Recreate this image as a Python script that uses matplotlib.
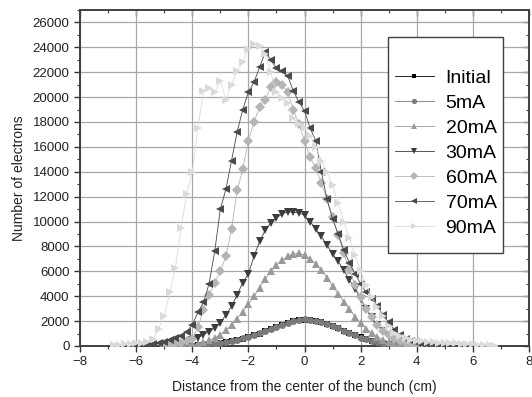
import matplotlib
matplotlib.use('Agg')
import matplotlib.pyplot as plt
from matplotlib.ticker import MultipleLocator, NullFormatter
from matplotlib.patches import Rectangle

plt.rcParams['font.family'] = ['Liberation Sans', 'DejaVu Sans']

# ── Daten ─────────────────────────────────────────────────────────────────────
x_initial = [-4.4, -4.2, -4.0, -3.8, -3.6, -3.4, -3.2, -3.0, -2.8, -2.6, -2.4, -2.2,
             -2.0, -1.8, -1.6, -1.4, -1.2, -1.0, -0.8, -0.6, -0.4, -0.2, 0.0, 0.2,
             0.4, 0.6, 0.8, 1.0, 1.2, 1.4, 1.6, 1.8, 2.0, 2.2, 2.4, 2.6, 2.8, 3.0,
             3.2, 3.4, 3.6, 3.8, 4.0]
y_initial = [10, 20, 30, 60, 90, 130, 180, 240, 310, 390, 480, 590,
             710, 850, 1000, 1170, 1340, 1520, 1690, 1840, 1970, 2070, 2120, 2100,
             2030, 1920, 1770, 1600, 1420, 1230, 1040, 860, 690, 540, 410, 300, 210, 140,
             90, 50, 30, 15, 5]

x_5ma = x_initial
y_5ma = [10, 20, 40, 60, 100, 140, 190, 250, 320, 400, 500, 610,
         730, 870, 1020, 1190, 1360, 1540, 1710, 1860, 1990, 2080, 2130, 2110,
         2040, 1920, 1770, 1600, 1410, 1220, 1030, 850, 680, 530, 400, 290, 200, 130,
         80, 50, 30, 15, 5]

x_20ma = [-4.6, -4.4, -4.2, -4.0, -3.8, -3.6, -3.4, -3.2, -3.0, -2.8, -2.6, -2.4,
          -2.2, -2.0, -1.8, -1.6, -1.4, -1.2, -1.0, -0.8, -0.6, -0.4, -0.2, 0.0,
          0.2, 0.4, 0.6, 0.8, 1.0, 1.2, 1.4, 1.6, 1.8, 2.0, 2.2, 2.4, 2.6, 2.8,
          3.0, 3.2, 3.4, 3.6, 3.8, 4.0, 4.2]
y_20ma = [20, 40, 80, 130, 200, 300, 450, 650, 900, 1250, 1700, 2200,
          2750, 3350, 4000, 4700, 5400, 6000, 6500, 6900, 7200, 7400, 7450, 7300,
          7000, 6600, 6100, 5500, 4850, 4200, 3550, 2950, 2350, 1850, 1400, 1050, 750, 500,
          330, 210, 130, 80, 40, 20, 10]

x_30ma = x_20ma
y_30ma = [60, 150, 280, 450, 680, 900, 1150, 1450, 1850, 2500, 3200, 4100,
          5100, 5800, 7200, 8400, 9300, 9900, 10300, 10600, 10800, 10750, 10700, 10500,
          10000, 9400, 8800, 8100, 7400, 6800, 6100, 5300, 4600, 3800, 3000, 2300, 1700, 1200,
          800, 500, 300, 170, 80, 30, 10]

x_60ma = [-5.0, -4.8, -4.6, -4.4, -4.2, -4.0, -3.8, -3.6, -3.4, -3.2, -3.0, -2.8,
          -2.6, -2.4, -2.2, -2.0, -1.8, -1.6, -1.4, -1.2, -1.0, -0.8, -0.6, -0.4,
          -0.2, 0.0, 0.2, 0.4, 0.6, 0.8, 1.0, 1.2, 1.4, 1.6, 1.8, 2.0, 2.2, 2.4,
          2.6, 2.8, 3.0, 3.2, 3.4, 3.6, 3.8, 4.0, 4.2, 4.4]
y_60ma = [60, 100, 160, 250, 380, 560, 1500, 2900, 4100, 5100, 6000, 7200,
          9400, 12500, 14200, 16500, 18000, 19200, 19800, 20800, 21200, 21000, 20400, 19000,
          17800, 16500, 15200, 14300, 13100, 11800, 10400, 8900, 7500, 6100, 4900, 3900, 3000, 2300,
          1700, 1200, 850, 600, 400, 260, 160, 100, 60, 30]

x_70ma = [-6.4, -6.2, -6.0, -5.8, -5.6, -5.4, -5.2, -5.0, -4.8, -4.6, -4.4, -4.2,
          -4.0, -3.8, -3.6, -3.4, -3.2, -3.0, -2.8, -2.6, -2.4, -2.2, -2.0, -1.8,
          -1.6, -1.4, -1.2, -1.0, -0.8, -0.6, -0.4, -0.2, 0.0, 0.2, 0.4, 0.6,
          0.8, 1.0, 1.2, 1.4, 1.6, 1.8, 2.0, 2.2, 2.4, 2.6, 2.8, 3.0,
          3.2, 3.4, 3.6, 3.8, 4.0, 4.2, 4.4, 4.6, 4.8, 5.0]
y_70ma = [20, 40, 60, 90, 130, 180, 250, 340, 460, 620, 830, 1150,
          1700, 2700, 3500, 5000, 7600, 11000, 12600, 14900, 17200, 19000, 20400, 21200,
          22400, 23600, 23000, 22300, 22100, 21700, 20500, 19600, 18900, 17500, 16500, 14000,
          11800, 10200, 9000, 7700, 6700, 5800, 5000, 4300, 3800, 3200, 2500, 1900,
          1300, 900, 600, 380, 250, 160, 100, 60, 30, 10]

x_90ma = [-6.8, -6.6, -6.4, -6.2, -6.0, -5.8, -5.6, -5.4, -5.2, -5.0, -4.8, -4.6,
          -4.4, -4.2, -4.0, -3.8, -3.6, -3.4, -3.2, -3.0, -2.8, -2.6, -2.4, -2.2,
          -2.0, -1.8, -1.6, -1.4, -1.2, -1.0, -0.8, -0.6, -0.4, -0.2, 0.0, 0.2,
          0.4, 0.6, 0.8, 1.0, 1.2, 1.4, 1.6, 1.8, 2.0, 2.2, 2.4, 2.6,
          2.8, 3.0, 3.2, 3.4, 3.6, 3.8, 4.0, 4.2, 4.4, 4.6, 4.8, 5.0,
          5.2, 5.4, 5.6, 5.8, 6.0, 6.2, 6.4, 6.6, 6.8]
y_90ma = [80, 110, 140, 180, 220, 270, 350, 550, 1400, 2400, 4300, 6300,
          9500, 12200, 14000, 17500, 20500, 20700, 20400, 21300, 19800, 21000, 22100, 22800,
          23900, 24300, 24100, 23500, 22000, 20400, 19900, 19500, 18300, 17800, 17500, 16900,
          16000, 14900, 14000, 12900, 11500, 10000, 8700, 7300, 6000, 4900, 3900, 3100,
          2400, 1600, 1050, 800, 620, 500, 430, 380, 340, 300, 270, 250,
          230, 210, 180, 150, 130, 110, 90, 70, 40]

labels = ['Initial', '5mA', '20mA', '30mA', '60mA', '70mA', '90mA']

# ── Stil ──────────────────────────────────────────────────────────────────────
series = [
    (x_initial, y_initial, 's', '#000000', 4.5),
    (x_5ma,     y_5ma,     'o', '#7a7a7a', 5.0),
    (x_20ma,    y_20ma,    '^', '#9a9a9a', 6.0),
    (x_30ma,    y_30ma,    'v', '#3c3c3c', 6.0),
    (x_60ma,    y_60ma,    'D', '#b4b4b4', 5.0),
    (x_70ma,    y_70ma,    '<', '#4a4a4a', 6.0),
    (x_90ma,    y_90ma,    '>', '#dadada', 6.0),
]

fig = plt.figure(figsize=(5.32, 3.97), dpi=100)
ax = fig.add_axes([80 / 532, 51 / 397, 449 / 532, 336 / 397])

handles = []
for (xs, ys, mk, col, ms), lbl in zip(series, labels):
    h, = ax.plot(xs, ys, marker=mk, color=col, markersize=ms,
                 linewidth=0.6, markeredgewidth=0, label=lbl, zorder=3)
    handles.append(h)

ax.set_xlim(-8, 8)
ax.set_ylim(0, 27000)
ax.xaxis.set_major_locator(MultipleLocator(2))
ax.xaxis.set_minor_locator(MultipleLocator(1))
ax.yaxis.set_major_locator(MultipleLocator(2000))
ax.yaxis.set_minor_locator(MultipleLocator(1000))
ax.tick_params(which='both', direction='out', labelsize=9.5, colors='#333333')
ax.tick_params(which='major', length=4, width=1)
ax.tick_params(which='minor', length=2.5, width=0.8)
for lbl in ax.get_xticklabels() + ax.get_yticklabels():
    lbl.set_color('#222222')

ax.grid(True, which='major', color='#a8a8a8', linewidth=0.9, zorder=0)
ax.set_axisbelow(True)

for spine in ax.spines.values():
    spine.set_linewidth(1.4)
    spine.set_color('#404040')

# Ticks oben/rechts nach innen
top = ax.secondary_xaxis('top')
top.xaxis.set_major_locator(MultipleLocator(2))
top.xaxis.set_minor_locator(MultipleLocator(1))
top.xaxis.set_major_formatter(NullFormatter())
top.tick_params(which='both', direction='in', colors='#404040')
top.tick_params(which='major', length=4, width=1)
top.tick_params(which='minor', length=2.5, width=0.8)
top.spines['top'].set_visible(False)

right = ax.secondary_yaxis('right')
right.yaxis.set_major_locator(MultipleLocator(2000))
right.yaxis.set_minor_locator(MultipleLocator(1000))
right.yaxis.set_major_formatter(NullFormatter())
right.tick_params(which='both', direction='in', colors='#404040')
right.tick_params(which='major', length=4, width=1)
right.tick_params(which='minor', length=2.5, width=0.8)
right.spines['right'].set_visible(False)

ax.set_xlabel('Distance from the center of the bunch (cm)', fontsize=10,
              color='#222222', labelpad=8)
ax.set_ylabel('Number of electrons', fontsize=10, color='#222222', labelpad=5)

# Legendenrahmen
box = Rectangle((0.686, 0.277), 0.256, 0.643, transform=ax.transAxes,
                facecolor='white', edgecolor='#404040', linewidth=1.0, zorder=5)
ax.add_patch(box)
leg = ax.legend(handles=handles, loc='upper left', bbox_to_anchor=(0.68, 0.853),
                frameon=False, fontsize=14, handlelength=2.0, handletextpad=0.6,
                labelspacing=0.38, borderpad=0.0, markerscale=0.75)
leg.set_zorder(6)

fig.savefig('out.png', dpi=100, facecolor='white')
